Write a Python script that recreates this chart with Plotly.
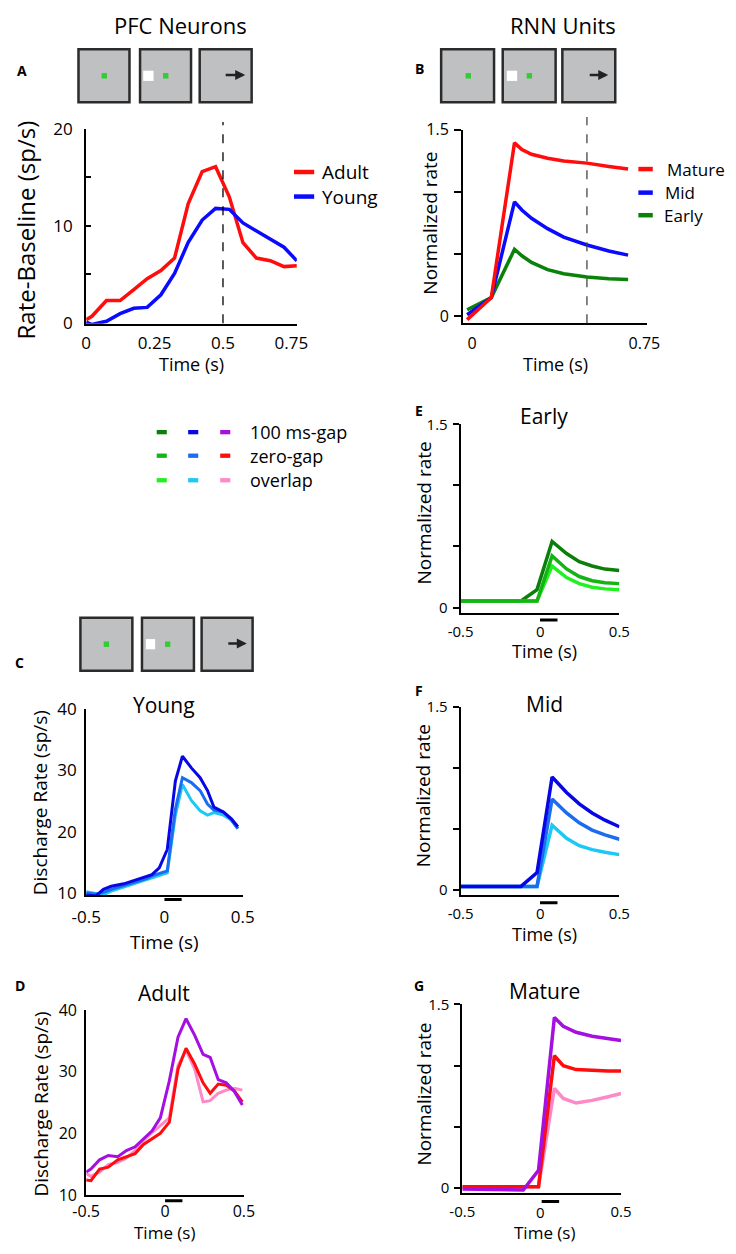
import plotly.graph_objects as go

W, H = 736, 1254
FONT = "Open Sans"

# ---------------- data ----------------
# Panel A: PFC neurons, rate minus baseline (sp/s)
A_TIME = [0, 0.021, 0.074, 0.124, 0.174, 0.223, 0.273, 0.323, 0.373, 0.424,
          0.473, 0.523, 0.573, 0.622, 0.673, 0.723, 0.77]
A_ADULT = [0.34, 0.68, 2.3, 2.3, 3.44, 4.55, 5.4, 6.68, 12.3, 15.6,
           16.1, 13.0, 8.27, 6.68, 6.41, 5.8, 5.9]
A_YOUNG = [0.07, -0.17, 0.17, 0.95, 1.5, 1.6, 2.9, 5.1, 8.3, 10.6,
           11.8, 11.7, 10.3, 9.5, 8.6, 7.8, 6.4]
A_LABELS = ["Adult", "Young"]

# Panel B: RNN units, normalized rate
B_TIME = [-0.021, 0.084, 0.185, 0.217, 0.259, 0.329, 0.399, 0.5, 0.595, 0.679]
B_MATURE = [-0.026, 0.15, 1.395, 1.342, 1.303, 1.271, 1.25, 1.232, 1.205, 1.184]
B_MID = [0.013, 0.15, 0.921, 0.855, 0.789, 0.705, 0.637, 0.574, 0.526, 0.492]
B_EARLY = [0.053, 0.15, 0.539, 0.487, 0.434, 0.376, 0.342, 0.316, 0.303, 0.297]
B_LABELS = ["Mature", "Mid", "Early"]

# Panel C: Young PFC, discharge rate (sp/s)
C_TIME = [-0.5, -0.44, -0.39, -0.34, -0.26, -0.18, -0.11, -0.08, -0.033, 0.018,
          0.07, 0.115, 0.172, 0.228, 0.275, 0.316, 0.377, 0.428, 0.469]
C_100MS = [9.7, 9.5, 10.6, 11.1, 11.5, 12.2, 12.8, 13.0, 14.1, 17.1,
           28.3, 32.3, 30.4, 28.8, 26.7, 24.0, 23.2, 22.1, 20.8]
C_ZERO = [10.0, 9.8, 10.1, 10.6, 11.2, 11.8, 12.4, 12.8, 13.2, 13.6,
          23.7, 28.8, 28.0, 26.7, 24.5, 23.5, 23.2, 21.9, 20.5]
C_OVERLAP = [10.2, 9.9, 9.7, 10.3, 11.0, 11.6, 12.2, 12.5, 12.9, 13.3,
             22.7, 27.7, 25.1, 23.4, 22.7, 23.1, 22.7, 21.9, 20.5]

# Panel D: Adult PFC, discharge rate (sp/s)
D_TIME = [-0.5, -0.47, -0.415, -0.36, -0.3, -0.245, -0.19, -0.137, -0.082, -0.03,
          0.027, 0.082, 0.133, 0.188, 0.241, 0.286, 0.337, 0.388, 0.439, 0.49]
D_100MS = [13.7, 14.2, 15.7, 16.4, 16.2, 17.2, 17.8, 19.1, 20.4, 22.5,
           28.5, 35.6, 38.6, 35.9, 32.8, 32.3, 28.7, 28.2, 26.8, 24.6]
D_ZERO = [12.4, 12.3, 14.2, 14.5, 15.7, 16.2, 16.7, 18.2, 19.1, 20.0,
          21.8, 30.4, 33.8, 31.2, 28.2, 26.5, 28.0, 27.8, 26.9, 25.1]
D_OVERLAP = [13.5, 13.0, 13.7, 14.9, 15.3, 16.0, 17.2, 18.8, 20.1, 21.2,
             22.5, 31.0, 33.5, 30.4, 25.1, 25.3, 26.5, 27.0, 27.3, 27.0]

# Panels E, F: RNN Early / Mid, normalized rate
RNN_TIME = [-0.5, -0.12, -0.019, 0.076, 0.167, 0.247, 0.328, 0.409, 0.5]
E_100MS = [0.054, 0.054, 0.147, 0.541, 0.442, 0.375, 0.34, 0.315, 0.303]
E_ZERO = [0.054, 0.054, 0.054, 0.423, 0.316, 0.254, 0.22, 0.204, 0.196]
E_OVERLAP = [0.054, 0.054, 0.054, 0.34, 0.246, 0.196, 0.166, 0.153, 0.145]
F_100MS = [0.029, 0.029, 0.142, 0.924, 0.798, 0.705, 0.63, 0.571, 0.517]
F_ZERO = [0.029, 0.029, 0.029, 0.745, 0.63, 0.549, 0.49, 0.45, 0.415]
F_OVERLAP = [0.029, 0.029, 0.029, 0.53, 0.423, 0.362, 0.33, 0.308, 0.289]

# Panel G: RNN Mature, normalized rate
G_TIME = [-0.5, -0.116, -0.02, 0.08, 0.136, 0.217, 0.318, 0.419, 0.5]
G_100MS = [-0.011, -0.019, 0.142, 1.393, 1.321, 1.272, 1.24, 1.219, 1.205]
G_ZERO = [0.008, 0.008, 0.008, 1.08, 0.999, 0.967, 0.959, 0.956, 0.956]
G_OVERLAP = [0.008, 0.008, 0.008, 0.812, 0.731, 0.693, 0.715, 0.745, 0.771]

COND_LABELS = ["100 ms-gap", "zero-gap", "overlap"]
STIM_BAR = [0.0, 0.11]
EVENT_TIME = 0.5

# ---------------- colours ----------------
RED = "#ff0d0d"
BLUE = "#0a0aff"
GREEN = "#0a820a"
GREENS = ["#0a7f0a", "#14b414", "#22f022"]
BLUES = ["#0707e6", "#1c6cf2", "#1ec8f5"]
ADULTS = ["#a50fe0", "#ff0d0d", "#ff88c8"]

def px(x):
    return x / W

def py(y):
    return 1 - y / H

fig = go.Figure()
layout = {}
annotations = []
shapes = []

AX = dict(showline=True, linecolor="black", linewidth=2, showgrid=False,
          zeroline=False, ticks="", tickcolor="black", tickwidth=2,
          fixedrange=True)


def axes(n, xl, xr, yt, yb, xrng, yrng, xtv, xtt, ytv, ytt, fs,
         yticks="", yticklen=0, ystand=4, xstand=2):
    sx = "" if n == 1 else str(n)
    xd = dict(AX)
    xd.update(domain=[px(xl), px(xr)], range=xrng, anchor="y" + sx,
              tickvals=xtv, ticktext=xtt, ticklabelstandoff=xstand,
              tickfont=dict(family=FONT, size=fs, color="black"))
    yd = dict(AX)
    yd.update(domain=[py(yb), py(yt)], range=yrng, anchor="x" + sx,
              tickvals=ytv, ticktext=ytt, ticks=yticks, ticklen=yticklen,
              ticklabelstandoff=ystand,
              tickfont=dict(family=FONT, size=fs, color="black"))
    layout["xaxis" + sx] = xd
    layout["yaxis" + sx] = yd


def line(n, x, y, color, width=3.5):
    sx = "" if n == 1 else str(n)
    fig.add_trace(go.Scatter(x=x, y=y, mode="lines", xaxis="x" + sx, yaxis="y" + sx,
                             line=dict(color=color, width=width), showlegend=False,
                             hoverinfo="skip"))


def txt(x, y, s, size, angle=0, xanchor="center", bold=False, color="black"):
    if bold:
        s = "<b>" + s + "</b>"
    annotations.append(dict(x=px(x), y=py(y), xref="paper", yref="paper", text=s,
                            showarrow=False, textangle=angle, xanchor=xanchor,
                            yanchor="middle",
                            font=dict(family=FONT, size=size, color=color)))


def rect(x0, x1, y0, y1, fill, lc=None, lw=0):
    shapes.append(dict(type="rect", xref="paper", yref="paper", x0=px(x0), x1=px(x1),
                       y0=py(y1), y1=py(y0), fillcolor=fill,
                       line=dict(color=lc if lc else fill, width=lw), layer="above"))


def hseg(x0, x1, y, color, width):
    shapes.append(dict(type="line", xref="paper", yref="paper", x0=px(x0), x1=px(x1),
                       y0=py(y), y1=py(y), line=dict(color=color, width=width)))


# ---------------- axes ----------------
axes(1, 74, 293, 119, 317.7, [0, 0.77], [-0.1, 20],
     [0, 0.25, 0.5, 0.75], ["0", "0.25", "0.5", "0.75"],
     [0, 5, 10, 15, 20], ["0", "", "10", "", "20"], 17,
     yticks="inside", yticklen=5, ystand=8, xstand=3)
axes(2, 465.7, 656.7, 120, 317, [-0.039, 0.76], [-0.055, 1.5],
     [0, 0.75], ["0", "0.75"], [0, 0.5, 1, 1.5], ["0", "", "", "1.5"], 16,
     yticks="outside", yticklen=7, ystand=2, xstand=5)
axes(3, 74, 236.7, 710, 900, [-0.5, 0.5], [9.6, 40],
     [-0.5, 0, 0.5], ["-0.5", "0", "0.5"], [10, 20, 30, 40], ["10", "20", "30", "40"], 17,
     ystand=4, xstand=5)
axes(4, 74, 238, 1016.7, 1205, [-0.5, 0.5], [10, 40],
     [-0.5, 0, 0.5], ["-0.5", "0", "0.5"], [10, 20, 30, 40], ["10", "20", "30", "40"], 16,
     ystand=4, xstand=1)
for n, (yt, yb, lo, xl, xr) in zip((5, 6, 7), [(420, 612.3, -0.045, 463.3, 628.3),
                                          (707.7, 899.3, -0.04, 463.3, 628.3),
                                          (1011, 1203.3, -0.045, 465, 630)]):
    axes(n, xl, xr, yt, yb, [-0.5, 0.5], [lo, 1.5],
         [-0.5, 0.5], ["-0.5", "0.5"], [0, 0.5, 1, 1.5], ["0", "", "", "1.5"], 15,
         yticks="outside", yticklen=6, ystand=2, xstand=4)

# ---------------- traces ----------------
line(1, A_TIME, A_ADULT, RED)
line(1, A_TIME, A_YOUNG, BLUE)
line(2, B_TIME, B_EARLY, GREEN)
line(2, B_TIME, B_MID, BLUE)
line(2, B_TIME, B_MATURE, RED)
line(3, C_TIME, C_OVERLAP, BLUES[2], 3)
line(3, C_TIME, C_ZERO, BLUES[1], 3)
line(3, C_TIME, C_100MS, BLUES[0], 3)
line(4, D_TIME, D_OVERLAP, ADULTS[2], 3)
line(4, D_TIME, D_ZERO, ADULTS[1], 3)
line(4, D_TIME, D_100MS, ADULTS[0], 3)
line(5, RNN_TIME, E_100MS, GREENS[0])
line(5, RNN_TIME, E_OVERLAP, GREENS[2])
line(5, RNN_TIME, E_ZERO, GREENS[1])
line(6, RNN_TIME, F_OVERLAP, BLUES[2])
line(6, RNN_TIME, F_ZERO, BLUES[1])
line(6, RNN_TIME, F_100MS, BLUES[0])
line(7, G_TIME, G_OVERLAP, ADULTS[2])
line(7, G_TIME, G_ZERO, ADULTS[1])
line(7, G_TIME, G_100MS, ADULTS[0])

# dashed event lines
shapes.append(dict(type="line", xref="x", yref="paper", x0=EVENT_TIME, x1=EVENT_TIME,
                   y0=py(317), y1=py(112), line=dict(color="black", width=1.3, dash="dash")))
shapes.append(dict(type="line", xref="x2", yref="paper", x0=EVENT_TIME, x1=EVENT_TIME,
                   y0=py(317), y1=py(107), line=dict(color="#444444", width=1.3, dash="dash")))

# stimulus bars below time axes
for n, ybar in [(3, 904), (4, 1211), (5, 619.3), (6, 907.3), (7, 1211.7)]:
    shapes.append(dict(type="line", xref="x" + str(n), yref="paper",
                       x0=STIM_BAR[0], x1=STIM_BAR[1], y0=py(ybar), y1=py(ybar),
                       line=dict(color="black", width=3)))

# ---------------- stimulus boxes ----------------
def stim(boxes, y0, y1, g1, white, g2, arrow):
    for (a, b) in boxes:
        rect(a, b, y0, y1, "#bfc0c2", "#2b2b2b", 2.5)
    cy = (y0 + y1) / 2
    rect(g1 - 2.8, g1 + 2.8, cy - 2.8, cy + 2.8, "#33cc33")
    rect(white[0], white[1], cy - 5.2, cy + 5.2, "#ffffff")
    rect(g2 - 2.8, g2 + 2.8, cy - 2.8, cy + 2.8, "#33cc33")
    annotations.append(dict(x=px(arrow[1]), y=py(cy - 0.8), xref="paper", yref="paper",
                            ax=arrow[0] - arrow[1], ay=0, text="", showarrow=True,
                            arrowhead=2, arrowsize=0.8, arrowwidth=2.5, arrowcolor="#222222"))

stim([(66, 119), (130, 183), (192, 246)], 38, 92, 92.8, (133.3, 144), 156.7, (218.3, 239.3))
stim([(443, 498), (507, 562), (569, 624)], 38, 92, 471.2, (511.3, 522), 534.7, (596.7, 616.7))
stim([(68, 122), (132, 186), (194, 247)], 617, 671, 95, (136, 145.7), 158.7, (221, 241))

# ---------------- text ----------------
txt(172, 13, "PFC Neurons", 22)
txt(570, 13, "RNN Units", 22)
for s, x, y in [("A", 7, 60), ("B", 420, 58), ("C", 5, 663), ("D", 5, 992),
                ("E", 420, 406), ("F", 420, 691), ("G", 420, 992)]:
    txt(x, y, s, 14, bold=True)

txt(11, 222, "Rate-Baseline (sp/s)", 24, angle=-90)
txt(183, 359, "Time (s)", 18)
txt(431, 215, "Normalized rate", 19, angle=-90)
txt(562, 359, "Time (s)", 18)

txt(26, 806, "Discharge Rate (sp/s)", 19, angle=-90)
txt(155, 947, "Time (s)", 19)
txt(155, 706, "Young", 21)
txt(27, 1112, "Discharge Rate (sp/s)", 19, angle=-90)
txt(155, 1243, "Time (s)", 17)
txt(155, 999, "Adult", 21)

for (title, yt, ylab, tlab, zero_y) in [("Early", 412, 510, 651, 631),
                                        ("Mid", 705, 798, 939, 918),
                                        ("Mature", 997, 1102, 1243, 1222)]:
    txt(550, yt, title, 21)
    txt(425, ylab, "Normalized rate", 19, angle=-90)
    txt(550, tlab, "Time (s)", 17 if title == "Mature" else 18)
    txt(546, zero_y, "0", 15)

# legend panel A
for i, (lab, col) in enumerate(zip(A_LABELS, [RED, BLUE])):
    y = 163 + 25 * i
    hseg(290, 311, y, col, 4.5)
    txt(317, y, lab, 19, xanchor="left")
# legend panel B
for i, (lab, col) in enumerate(zip(B_LABELS, [RED, BLUE, GREEN])):
    y = [160, 184, 207][i]
    hseg(648, 663, y, col, 4.5)
    txt([676, 674, 673][i], y, lab, 17, xanchor="left")

# condition legend
cols = [GREENS, BLUES, ADULTS]
for r, lab in enumerate(COND_LABELS):
    y = [428, 452, 477][r]
    for c, x0 in enumerate([147.3, 180, 213.3]):
        rect(x0, x0 + 10.5, y - 2.2, y + 2.2, cols[c][r])
    txt(241.7, y, lab, 18, xanchor="left")

layout.update(width=W, height=H, margin=dict(l=0, r=0, t=0, b=0), autosize=False,
              paper_bgcolor="white", plot_bgcolor="white",
              annotations=annotations, shapes=shapes, showlegend=False,
              font=dict(family=FONT, color="black"))
fig.update_layout(**layout)
fig.write_html("out.html", config={"displayModeBar": False},
               post_script="document.body.style.margin='0';")
